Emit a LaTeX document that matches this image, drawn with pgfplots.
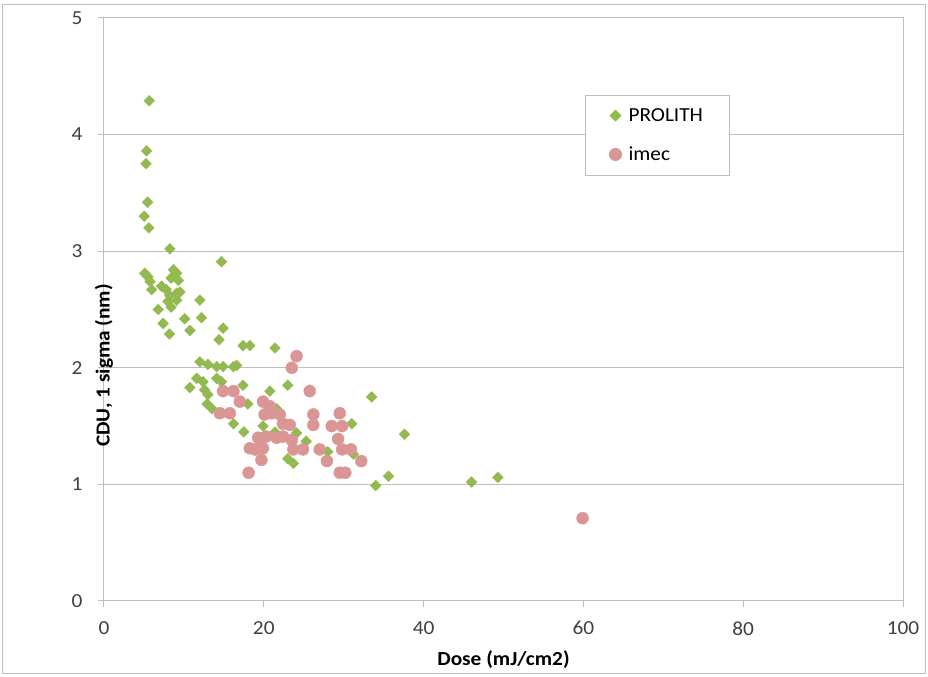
\documentclass[border=0pt]{standalone}
\usepackage{fontspec}
\setmainfont{Carlito}[FakeStretch=1.07]
\usepackage{pgfplots}
\pgfplotsset{compat=1.18}
\definecolor{grn}{HTML}{92BA50}
\definecolor{pnk}{HTML}{D99694}
\definecolor{gridc}{HTML}{BEBEBE}
\definecolor{txt}{HTML}{404040}
\begin{document}
\begin{tikzpicture}[x=1bp,y=1bp]
\path[use as bounding box] (-104,-76) rectangle (824,601);
\draw[gridc, line width=1bp] (-101,-73) rectangle (821,596);
\begin{axis}[
  at={(0,0)}, anchor=south west,
  width=799bp, height=583bp, scale only axis,
  xmin=0, xmax=100, ymin=0, ymax=5,
  xtick={0,20,...,100}, ytick={0,1,...,5},
  ymajorgrids,
  grid style={gridc, line width=1bp},
  axis line style={gridc, line width=1bp},
  tick style={gridc, line width=1bp},
  tick align=outside, major tick length=6bp,
  tick pos=left,
  font=\fontsize{20}{24}\selectfont,
  /pgf/number format/assume math mode=true,
  xlabel={\bfseries Dose (mJ/cm2)},
  ylabel={\bfseries CDU, 1 sigma (nm)},
  xlabel style={at={(rel axis cs:0.5,0)}, anchor=center, yshift=-59bp},
  ylabel style={at={(rel axis cs:0,0.5)}, anchor=center, xshift=-56bp},
  xticklabel style={yshift=-11bp, text=txt},
  yticklabel style={xshift=-12bp, text=txt},
  legend style={at={(0.602,0.868)}, anchor=north west, draw=gridc, line width=1bp,
    inner xsep=24bp, inner ysep=11bp, row sep=20bp, font=\fontsize{20}{24}\selectfont,
    /tikz/every odd column/.append style={column sep=5bp}},
  legend cell align=left,
  legend image code/.code={\path (-5bp,0bp) -- (0bp,0bp); \draw[#1] plot coordinates {(0bp,0bp)};},
]
\addplot[only marks, mark=square*, mark size=3.8bp, mark options={rotate=45, fill=grn, draw=grn}]
coordinates {
(5.67,4.29) (5.33,3.86) (5.25,3.75) (5.46,3.42) (5.04,3.30) (5.62,3.20)
(8.25,3.02) (14.7,2.91) (5.1,2.81) (5.5,2.78) (5.75,2.74) (5.96,2.67)
(8.7,2.84) (9.1,2.81) (8.4,2.77) (9.3,2.75) (7.2,2.70) (7.8,2.67)
(8.2,2.62) (9.1,2.64) (9.5,2.65) (8.0,2.57) (8.4,2.52) (9.1,2.58)
(12.0,2.58) (6.8,2.50) (10.1,2.42) (12.2,2.43) (7.4,2.38) (8.2,2.29)
(10.75,2.32) (14.9,2.34) (14.4,2.24) (17.4,2.19) (18.25,2.19) (21.4,2.17)
(12.0,2.05) (13.0,2.03) (14.1,2.01) (14.9,2.01) (16.2,2.01) (16.6,2.02)
(11.6,1.91) (12.4,1.88) (14.1,1.91) (14.7,1.88) (17.4,1.85) (10.75,1.83)
(12.6,1.81) (13.0,1.77) (12.9,1.69) (13.5,1.65) (18.0,1.69) (20.75,1.80)
(23.0,1.85) (16.2,1.52) (17.5,1.45) (19.9,1.50) (21.4,1.45) (24.1,1.44)
(25.3,1.37) (23.0,1.22) (23.7,1.18) (21.6,1.65) (31.0,1.52) (33.5,1.75)
(28.0,1.28) (31.2,1.26) (34.0,0.99) (35.6,1.07) (37.6,1.43) (46.0,1.02)
(49.3,1.06) (25.75,1.81)
};
\addlegendentry{PROLITH}
\addplot[only marks, mark=*, mark size=6bp, mark options={fill=pnk, draw=pnk}]
coordinates {
(24.1,2.10) (23.5,2.00) (25.75,1.80) (14.9,1.80) (16.2,1.80) (17.0,1.71)
(19.9,1.71) (20.75,1.67) (20.1,1.60) (21.0,1.61) (14.5,1.61) (15.75,1.61)
(22.0,1.60) (22.4,1.52) (23.25,1.51) (26.2,1.60) (26.2,1.51) (29.5,1.61)
(28.5,1.50) (29.8,1.50) (29.3,1.39) (19.3,1.40) (20.3,1.41) (21.6,1.40)
(22.4,1.41) (23.5,1.38) (18.25,1.31) (19.9,1.31) (18.9,1.30) (23.7,1.30)
(24.9,1.30) (27.0,1.30) (29.8,1.30) (30.9,1.30) (19.7,1.21) (27.9,1.20)
(32.2,1.20) (18.1,1.10) (29.5,1.10) (30.2,1.10) (59.9,0.71)
};
\addlegendentry{imec}
\end{axis}
\end{tikzpicture}
\end{document}
